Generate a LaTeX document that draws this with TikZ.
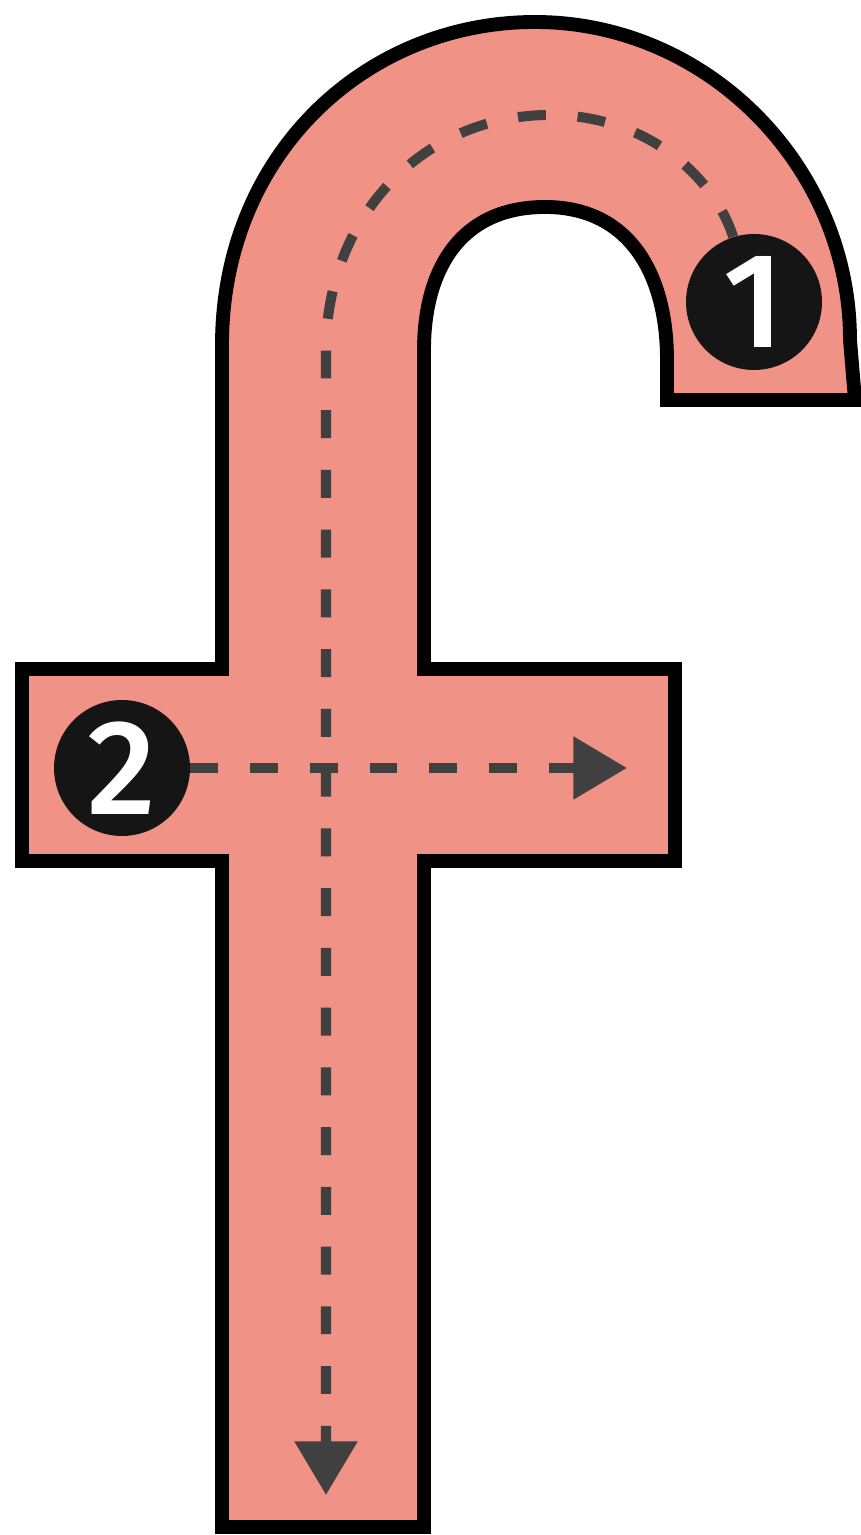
\documentclass[tikz,border=0pt]{standalone}
\usepackage{fontspec}
\usetikzlibrary{arrows.meta}
\definecolor{SalmonFill}{HTML}{F09286}
\definecolor{TrailGray}{HTML}{404040}
\definecolor{BadgeInk}{HTML}{151515}
\newfontfamily\BadgeFamily{Fira Sans Medium}
\newcommand{\BadgeFont}{\BadgeFamily\fontsize{77pt}{77pt}\selectfont}
% keep the digit from growing the badge
\newcommand{\BadgeNum}[1]{\makebox[0pt]{\raisebox{-.5\height}[0pt][0pt]{#1}}}

\begin{document}
\begin{tikzpicture}[x=0.02cm, y=0.02cm,
  badge/.style={circle, fill=BadgeInk, text=white, inner sep=0pt, minimum size=2.72cm, font=\BadgeFont},
  trail/.style={TrailGray, line width=5.7pt, dash pattern=on 15.9pt off 18.1pt,
    -{Triangle[length=30.5pt, width=34.5pt]}}]
  \useasboundingbox (0,0) rectangle (861,1535);
  % letter outline
  \draw[line width=7.9pt, fill=SalmonFill, line join=miter]
    (222,8) -- (424,8) -- (424,674) -- (675,674) -- (675,866) -- (424,866) -- (424,1185)
    .. controls (424,1265) and (460,1328) .. (545,1328)
    .. controls (630,1328) and (667,1260) .. (667,1175) -- (667,1135) -- (855,1135) -- (850,1195)
    .. controls (850,1368) and (708,1513) .. (535,1513)
    .. controls (365,1513) and (222,1380) .. (222,1190)
    -- (222,866) -- (22,866) -- (22,674) -- (222,674) -- cycle;
  % badges
  \node[badge] (one) at (754,1233) {\BadgeNum{1}};
  \node[badge] (two) at (122,767) {\BadgeNum{2}};
  \coordinate (downtip) at (326,40);
  \coordinate (righttip) at (627,767);
  % trails
  \draw[trail] (one) .. controls (715,1355) and (650,1420) .. (550,1420)
    .. controls (420,1420) and (326,1315) .. (326,1185) -- (downtip);
  \draw[trail] (two) -- (righttip);
\end{tikzpicture}
\end{document}
